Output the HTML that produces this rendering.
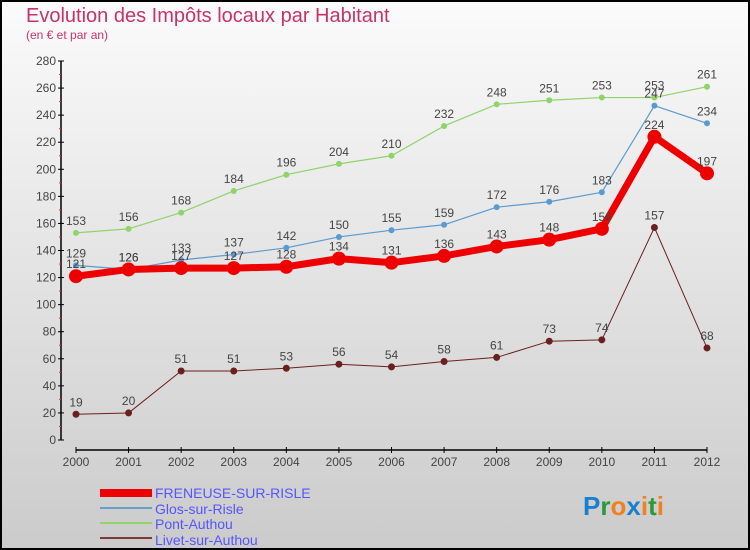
<!DOCTYPE html>
<html><head><meta charset="utf-8"><style>
body{margin:0;width:750px;height:550px;overflow:hidden;font-family:"Liberation Sans",sans-serif}
svg{display:block}
</style></head><body>
<svg id="c" width="750" height="550">
<defs><linearGradient id="bg" x1="0" y1="0" x2="0" y2="1"><stop offset="0" stop-color="#fbfbfb"/><stop offset="1" stop-color="#cbcbcb"/></linearGradient></defs>
<rect x="1" y="1" width="748" height="548" fill="url(#bg)" stroke="#000" stroke-width="2"/>
<text x="26" y="22" font-size="20" fill="#c8326a">Evolution des Impôts locaux par Habitant</text>
<text x="26" y="39" font-size="12" fill="#c8326a">(en € et par an)</text>
<g id="axes"></g><g id="series"></g>
<g>
<rect x="100" y="489" width="52" height="8" fill="#e00"/>
<text x="155" y="498" font-size="14" fill="#5555ff">FRENEUSE-SUR-RISLE</text>
<line x1="100" y1="508" x2="152" y2="508" stroke="#6a9ecb" stroke-width="2"/>
<text x="155" y="514" font-size="14" fill="#5555ff">Glos-sur-Risle</text>
<line x1="100" y1="523" x2="152" y2="523" stroke="#8fd36a" stroke-width="2"/>
<text x="155" y="529" font-size="14" fill="#5555ff">Pont-Authou</text>
<line x1="100" y1="538" x2="152" y2="538" stroke="#7a3b3b" stroke-width="2"/>
<text x="155" y="545" font-size="14" fill="#5555ff">Livet-sur-Authou</text>
</g>
<text x="583" y="515" font-size="26" font-weight="bold"><tspan fill="#1a7fd0">P</tspan><tspan fill="#2a9a3a">r</tspan><tspan fill="#f08020">o</tspan><tspan fill="#1a7fd0">x</tspan><tspan fill="#f08020">i</tspan><tspan fill="#2a9a3a">t</tspan><tspan fill="#f08020">i</tspan></text>
</svg>
<script>
const years=[2000,2001,2002,2003,2004,2005,2006,2007,2008,2009,2010,2011,2012];
const yTicks=[0,20,40,60,80,100,120,140,160,180,200,220,240,260,280];
const freneuse=[121,126,127,127,128,134,131,136,143,148,156,224,197];
const glos=[129,126,133,137,142,150,155,159,172,176,183,247,234];
const pont=[153,156,168,184,196,204,210,232,248,251,253,253,261];
const livet=[19,20,51,51,53,56,54,58,61,73,74,157,68];
const NS="http://www.w3.org/2000/svg";
const X=i=>76+i*(707-76)/12;
const Y=v=>440-v*(440-61)/280;
function mk(t,a,p){const e=document.createElementNS(NS,t);for(const k in a)e.setAttribute(k,a[k]);p.appendChild(e);return e;}
const ax=document.getElementById('axes');
let l=mk('line',{x1:61,y1:Y(0),x2:61,y2:Y(280),stroke:'#000','stroke-width':1.5},ax);


yTicks.forEach(v=>{
 mk('line',{x1:58,x2:64,y1:Y(v),y2:Y(v),stroke:'#000'},ax);
 if(v<280)mk('line',{x1:59,x2:61,y1:Y(v+10),y2:Y(v+10),stroke:'#e33'},ax);
 const t=mk('text',{x:56,y:Y(v)+4,'font-size':12,fill:'#444','text-anchor':'end'},ax);t.textContent=v;
 
 
});
l=mk('line',{x1:X(0),y1:450,x2:X(12),y2:450,stroke:'#000','stroke-width':1.5},ax);


years.forEach((y,i)=>{
 mk('line',{x1:X(i),x2:X(i),y1:447,y2:453,stroke:'#000'},ax);
 const t=mk('text',{x:X(i),y:466,'font-size':12,fill:'#444','text-anchor':'middle'},ax);t.textContent=y;
 
 
});
const sg=document.getElementById('series');
function series(d,col,w,r,name){
 const g=mk('g',{},sg);
 
 
 mk('polyline',{points:d.map((v,i)=>X(i)+','+Y(v)).join(' '),fill:'none',stroke:col,'stroke-width':w,'stroke-linejoin':'round'},g);
 d.forEach((v,i)=>{
  const c=mk('circle',{cx:X(i),cy:Y(v),r:r,fill:col},g);
  
  
  const t=mk('text',{x:X(i),y:Y(v)-8,'font-size':12,fill:'#444','text-anchor':'middle'},g);t.textContent=v;
 });
}
series(livet,'#6b2020',1,3.5,'series-livet');
series(pont,'#8fd36a',1.2,3,'series-pont');
series(glos,'#5a9ad0',1.2,3,'series-glos');
series(freneuse,'#ee0000',7,7,'series-freneuse');
</script>
</body></html>
